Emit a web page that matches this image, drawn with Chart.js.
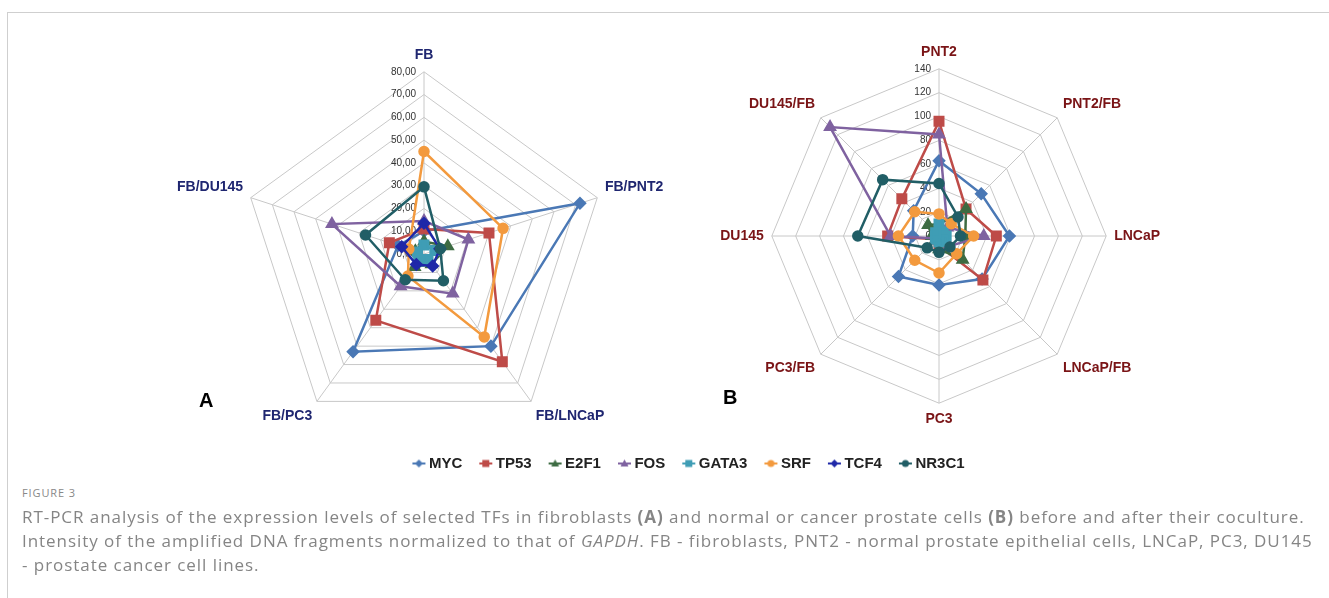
<!DOCTYPE html>
<html>
<head>
<meta charset="utf-8">
<script src="https://cdn.jsdelivr.net/npm/chart.js@4.4.1/dist/chart.umd.min.js"></script>
<style>
  body { margin: 0; background: #fff; width: 1329px; height: 598px; overflow: hidden; position: relative; font-family: "Liberation Sans", Arial, sans-serif; }
  .frame { position: absolute; left: 7px; top: 12px; width: 1400px; height: 700px; border-left: 1px solid #cfcfcf; border-top: 1px solid #cfcfcf; }
  canvas { position: absolute; }
  .panel { position: absolute; font: bold 20px "Liberation Sans", Arial, sans-serif; color: #000; }
  .fig { position: absolute; left: 22px; top: 485px; font: 11px "Open Sans", sans-serif; color: #888; letter-spacing: 0.9px; }
  .cap { position: absolute; left: 22px; top: 505px; font: 17px "Open Sans", sans-serif; color: #858585; line-height: 24px; letter-spacing: 0.95px; white-space: nowrap; }
</style>
</head>
<body>
<div class="frame"></div>
<canvas id="chartA" width="560" height="414" style="left:144px;top:35px;width:560px;height:414px"></canvas>
<canvas id="chartB" width="520" height="384" style="left:679px;top:45px;width:520px;height:384px"></canvas>
<canvas id="legend" width="700" height="80" style="left:337px;top:442px;width:700px;height:80px"></canvas>
<div class="panel" style="left:199px;top:389px">A</div>
<div class="panel" style="left:723px;top:386px">B</div>
<div class="fig">FIGURE 3</div>
<div class="cap">RT-PCR analysis of the expression levels of selected TFs in fibroblasts <b>(A)</b> and normal or cancer prostate cells <b>(B)</b> before and after their coculture.<br>Intensity of the amplified DNA fragments normalized to that of <i>GAPDH</i>. FB - fibroblasts, PNT2 - normal prostate epithelial cells, LNCaP, PC3, DU145<br>- prostate cancer cell lines.</div>
<script>
Chart.defaults.font.family = '"Liberation Sans", Arial, sans-serif';

// series
const series = ['MYC', 'TP53', 'E2F1', 'FOS', 'GATA3', 'SRF', 'TCF4', 'NR3C1'];
const colors = ['#4a78b5', '#be4b48', '#3d6b42', '#7f62a0', '#3f9db5', '#f39a3e', '#1f28a8', '#215e66'];
const markers = ['rectRot', 'rect', 'triangle', 'triangle', 'rect', 'circle', 'rectRot', 'circle'];
const markerSize = { rectRot: 5, rect: 6, triangle: 5.5, circle: 4.5 };

// panel A: fibroblasts
const labelsA = ['FB', 'FB/PNT2', 'FB/LNCaP', 'FB/PC3', 'FB/DU145'];
const mycA   = [10, 72, 50, 53, 12];
const tp53A  = [11, 30, 58.5, 36, 16];
const e2f1A  = [5.5, 11, 5.5, 7, 4];
const fosA   = [14.5, 20.5, 21.5, 17.5, 42.5];
const gata3A = [4, 5, 3, 4, 3];
const srfA   = [45, 36.5, 45, 12, 7];
const tcf4A  = [13.5, 7.3, 6.5, 5.7, 10.3];
const nr3c1A = [29.5, 7.5, 14.5, 14, 27];

// panel B: prostate cells (TCF4 not visible in B)
const labelsB = ['PNT2', 'PNT2/FB', 'LNCaP', 'LNCaP/FB', 'PC3', 'PC3/FB', 'DU145', 'DU145/FB'];
const mycB   = [63, 50, 59, 51, 41, 48, 22, 30];
const tp53B  = [96, 32, 48, 52, 8, 4, 43, 44];
const e2f1B  = [10, 32, 22, 28, 11, 4, 6, 13];
const fosB   = [85, 10, 37.5, 12, 3, 3, 40.5, 129];
const gata3B = [10, 5, 6, 5, 5, 4, 3, 4];
const srfB   = [18.5, 14.5, 29, 21, 31, 28.7, 34, 28.7];
const tcf4B  = [null, null, null, null, null, null, null, null];
const nr3c1B = [44, 22.5, 18, 13, 13.7, 14, 68, 66.7];

const valuesA = [mycA, tp53A, e2f1A, fosA, gata3A, srfA, tcf4A, nr3c1A];
const valuesB = [mycB, tp53B, e2f1B, fosB, gata3B, srfB, tcf4B, nr3c1B];

function makeDatasets(values) {
  return values.map((d, i) => ({
    label: series[i],
    data: d,
    borderColor: colors[i],
    backgroundColor: colors[i],
    pointBackgroundColor: colors[i],
    pointBorderColor: colors[i],
    pointStyle: markers[i],
    pointRadius: markerSize[markers[i]],
    borderWidth: 2.5,
    fill: false,
    order: series.length - i
  }));
}

// tick labels drawn left of the vertical axis
function tickPlugin(fmt) {
  return {
    id: 'tickLabels',
    beforeDatasetsDraw(chart) {
      const s = chart.scales.r;
      const ctx = chart.ctx;
      ctx.save();
      ctx.font = '10px "Liberation Sans", Arial, sans-serif';
      ctx.fillStyle = '#333';
      ctx.textAlign = 'right';
      ctx.textBaseline = 'middle';
      s.ticks.forEach(t => {
        const y = s.yCenter - s.getDistanceFromCenterForValue(t.value);
        ctx.fillText(fmt(t.value), s.xCenter - 8, y);
      });
      ctx.restore();
    }
  };
}

function radarOptions(max, step, labelColor) {
  return {
    responsive: false,
    animation: false,
    layout: { padding: 0 },
    plugins: { legend: { display: false }, tooltip: { enabled: false } },
    elements: { line: { tension: 0 } },
    scales: {
      r: {
        min: 0,
        max: max,
        ticks: { stepSize: step, display: false },
        grid: { color: '#c8c8c8', lineWidth: 1 },
        angleLines: { color: '#c8c8c8', lineWidth: 1 },
        pointLabels: { color: labelColor, padding: 8, font: { size: 14, weight: 'bold' } }
      }
    }
  };
}

new Chart(document.getElementById('chartA'), {
  type: 'radar',
  data: { labels: labelsA, datasets: makeDatasets(valuesA) },
  options: radarOptions(80, 10, '#1f2670'),
  plugins: [tickPlugin(v => v.toFixed(2).replace('.', ','))]
});

new Chart(document.getElementById('chartB'), {
  type: 'radar',
  data: { labels: labelsB, datasets: makeDatasets(valuesB) },
  options: radarOptions(140, 20, '#7a1416'),
  plugins: [tickPlugin(v => String(v))]
});

// legend glyphs: short line with the marker on it
function glyph(i) {
  const c = document.createElement('canvas');
  c.width = 24; c.height = 12;
  const g = c.getContext('2d');
  g.strokeStyle = colors[i];
  g.fillStyle = colors[i];
  g.lineWidth = 2;
  g.beginPath(); g.moveTo(9, 6); g.lineTo(22, 6); g.stroke();
  const cx = 15.5, cy = 6;
  g.beginPath();
  if (markers[i] === 'rectRot') { g.moveTo(cx, cy - 4); g.lineTo(cx + 4, cy); g.lineTo(cx, cy + 4); g.lineTo(cx - 4, cy); }
  else if (markers[i] === 'rect') { g.rect(cx - 3.5, cy - 3.5, 7, 7); }
  else if (markers[i] === 'triangle') { g.moveTo(cx, cy - 4); g.lineTo(cx + 4, cy + 3); g.lineTo(cx - 4, cy + 3); }
  else { g.arc(cx, cy, 3.5, 0, Math.PI * 2); }
  g.closePath(); g.fill();
  return c;
}

new Chart(document.getElementById('legend'), {
  type: 'line',
  data: { labels: [], datasets: series.map((s, i) => ({ label: s, data: [], borderColor: colors[i], backgroundColor: colors[i] })) },
  options: {
    responsive: false,
    animation: false,
    layout: { padding: 0 },
    scales: { x: { display: false }, y: { display: false } },
    plugins: {
      tooltip: { enabled: false },
      legend: {
        display: true,
        position: 'top',
        labels: {
          usePointStyle: true,
          pointStyleWidth: 12,
          padding: 14,
          color: '#222',
          font: { size: 15, weight: 'bold' },
          generateLabels: () => series.map((s, i) => ({
            text: s, pointStyle: glyph(i), fillStyle: colors[i], strokeStyle: colors[i],
            lineWidth: 0, hidden: false, datasetIndex: i, fontColor: '#222'
          }))
        }
      }
    }
  }
});
</script>
</body>
</html>
